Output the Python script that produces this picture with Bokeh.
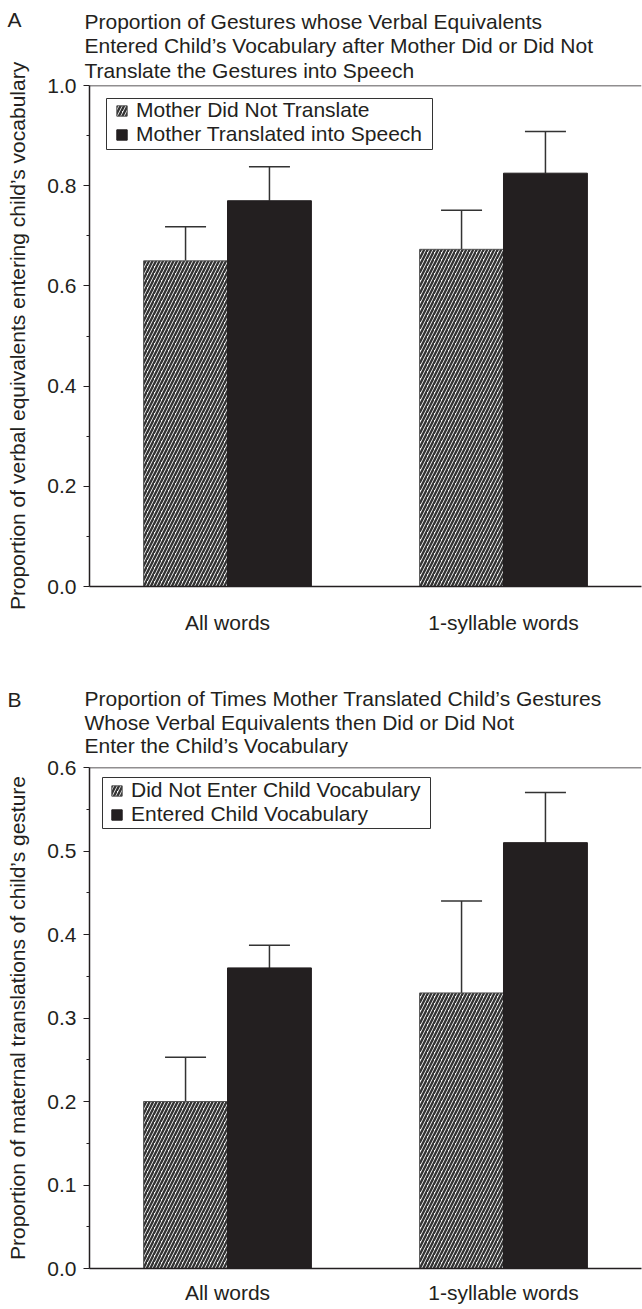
from bokeh.plotting import figure
from bokeh.layouts import column
from bokeh.models import (ColumnDataSource, Range1d, FactorRange, Label, Span, Whisker, TeeHead,
                          FixedTicker, NumeralTickFormatter, Legend, LegendItem,
                          Title, BoxAnnotation)
from bokeh.transform import dodge
from bokeh.embed import file_html
from bokeh.resources import INLINE

# ---------------- data ----------------
categories = ["All words", "1-syllable words"]

a_title = ["Proportion of Gestures whose Verbal Equivalents",
           "Entered Child\u2019s Vocabulary after Mother Did or Did Not",
           "Translate the Gestures into Speech"]
a_ylabel = "Proportion of verbal equivalents entering child\u2019s vocabulary"
a_series = ["Mother Did Not Translate", "Mother Translated into Speech"]
a_not_translated = [0.65, 0.673]
a_not_translated_upper = [0.718, 0.751]
a_translated = [0.77, 0.825]
a_translated_upper = [0.838, 0.908]
a_ticks = [0.0, 0.2, 0.4, 0.6, 0.8, 1.0]
a_minor_ticks = [0.1, 0.3, 0.5, 0.7, 0.9]

b_title = ["Proportion of Times Mother Translated Child\u2019s Gestures",
           "Whose Verbal Equivalents then Did or Did Not",
           "Enter the Child\u2019s Vocabulary"]
b_ylabel = "Proportion of maternal translations of child\u2019s gesture"
b_series = ["Did Not Enter Child Vocabulary", "Entered Child Vocabulary"]
b_not_entered = [0.20, 0.33]
b_not_entered_upper = [0.253, 0.44]
b_entered = [0.36, 0.51]
b_entered_upper = [0.387, 0.57]
b_ticks = [0.0, 0.1, 0.2, 0.3, 0.4, 0.5, 0.6]
b_minor_ticks = [0.05, 0.15, 0.25, 0.35, 0.45, 0.55]

# ---------------- style ----------------
FONT = "Liberation Sans"
INK = "#231f20"
FS = "21px"
W = 642
OFF = 0.152
BW = 0.304


def panel(letter, title_lines, ylabel, ymax, ticks, minor_ticks, names, v1, u1, v2, u2,
          height, top, bottom, standoffs, x_standoff, box, leg_loc,
          letter_side, letter_y):
    p = figure(x_range=FactorRange(*categories), y_range=Range1d(0, ymax),
               width=W, height=height, output_backend="svg", toolbar_location=None,
               min_border_left=89, min_border_right=1, min_border_top=top,
               min_border_bottom=bottom)
    p.outline_line_color = None
    p.xgrid.visible = False
    p.ygrid.visible = False
    p.background_fill_color = "white"
    p.border_fill_color = "white"

    src = ColumnDataSource(dict(cat=categories, v1=v1, u1=u1, v2=v2, u2=u2))
    r1 = p.vbar(x=dodge("cat", -OFF, range=p.x_range), top="v1", width=BW, source=src,
                fill_color="white", line_color="#555555", line_width=1,
                hatch_pattern="/", hatch_color="#333333", hatch_scale=7, hatch_weight=2.4)
    r2 = p.vbar(x=dodge("cat", OFF, range=p.x_range), top="v2", width=BW, source=src,
                fill_color=INK, line_color=INK, line_width=1)

    for base, lo, hi in ((dodge("cat", -OFF, range=p.x_range), "v1", "u1"),
                         (dodge("cat", OFF, range=p.x_range), "v2", "u2")):
        p.add_layout(Whisker(base=base, lower=lo, upper=hi, source=src, dimension="height",
                             line_color="#333333", line_width=1.5, lower_head=None,
                             upper_head=TeeHead(size=41, line_color="#333333", line_width=1.5)))

    p.add_layout(Span(location=ymax, dimension="width", line_color=INK, line_width=1.5))

    xa = p.xaxis[0]
    xa.axis_line_color = INK
    xa.axis_line_width = 1.5
    xa.major_tick_line_color = None
    xa.minor_tick_line_color = None
    xa.major_label_text_font = FONT
    xa.major_label_text_font_size = FS
    xa.major_label_text_color = INK
    xa.major_label_standoff = x_standoff

    ya = p.yaxis[0]
    ya.ticker = FixedTicker(ticks=ticks, minor_ticks=minor_ticks)
    ya.formatter = NumeralTickFormatter(format="0.0")
    ya.axis_line_color = INK
    ya.axis_line_width = 1.5
    ya.major_tick_line_color = INK
    ya.minor_tick_line_color = INK
    ya.major_tick_in = 0
    ya.major_tick_out = 6
    ya.minor_tick_in = 0
    ya.minor_tick_out = 3
    ya.major_label_standoff = 7
    ya.major_label_text_font = FONT
    ya.major_label_text_font_size = FS
    ya.major_label_text_color = INK
    ya.axis_label = ylabel
    ya.axis_label_text_font = FONT
    ya.axis_label_text_font_size = FS
    ya.axis_label_text_font_style = "normal"
    ya.axis_label_text_color = INK
    ya.axis_label_standoff = 15

    # legend frame (screen units, relative to the plot frame)
    bl, br, bt, bb = box
    p.add_layout(BoxAnnotation(left=bl, right=br, top=bt, bottom=bb,
                               left_units="screen", right_units="screen",
                               top_units="screen", bottom_units="screen",
                               fill_color="white", fill_alpha=1,
                               line_color="#333333", line_width=1, line_alpha=1))
    p.add_layout(Legend(items=[LegendItem(label=names[0], renderers=[r1]),
                               LegendItem(label=names[1], renderers=[r2])],
                        location=leg_loc, margin=0, padding=0, spacing=0,
                        glyph_width=13, glyph_height=13, label_standoff=8,
                        label_text_font=FONT, label_text_font_size=FS,
                        label_text_color=INK,
                        border_line_color=None, background_fill_alpha=0))

    letter_label = Label(x=-75, y=letter_y, x_units="screen", y_units="screen", text=letter,
                         text_font=FONT, text_font_size=FS, text_color=INK,
                         text_baseline="middle", text_align="center")
    if letter_side == "above":
        p.add_layout(letter_label, "above")   # innermost slot, just above the frame

    # title lines: first added sits closest to the frame
    for line, s in reversed(list(zip(title_lines, standoffs))):
        p.add_layout(Title(text=line, align="left", offset=-5, standoff=s,
                           text_font=FONT, text_font_size=FS, text_font_style="normal",
                           text_color=INK), "above")
    if letter_side == "below":
        p.add_layout(letter_label, "below")
    return p


pa = panel("A", a_title, a_ylabel, 1.0, a_ticks, a_minor_ticks, a_series,
           a_not_translated, a_not_translated_upper, a_translated, a_translated_upper,
           height=660, top=85, bottom=74, standoffs=[8, -9, 8], x_standoff=18,
           box=(17, 343, 488, 437), leg_loc=(26, 440),
           letter_side="below", letter_y=640)
pb = panel("B", b_title, b_ylabel, 0.6, b_ticks, b_minor_ticks, b_series,
           b_not_entered, b_not_entered_upper, b_entered, b_entered_upper,
           height=649, top=107, bottom=41, standoffs=[-25, 22, -25], x_standoff=6,
           box=(13, 341, 491, 440), leg_loc=(21, 442),
           letter_side="above", letter_y=68)

layout = column(pa, pb)
open("out.html", "w").write(file_html(layout, INLINE))
